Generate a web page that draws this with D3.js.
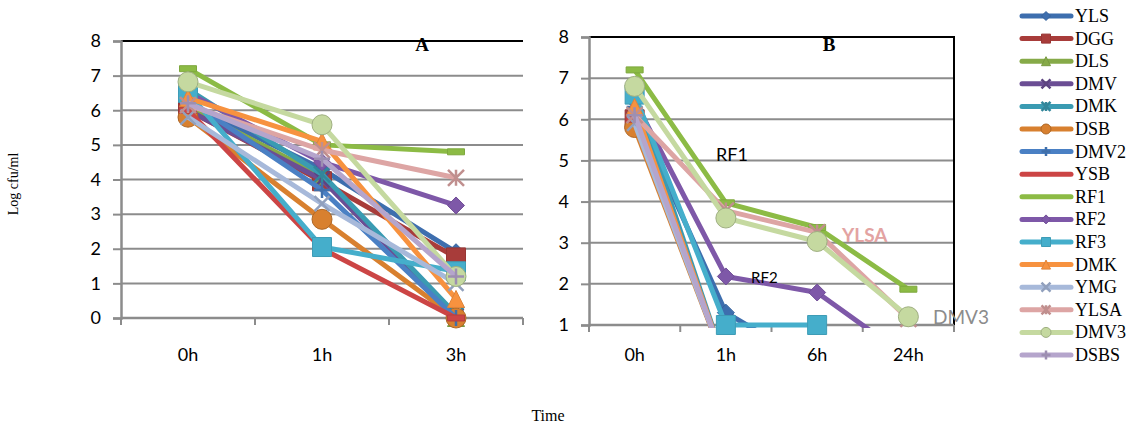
<!DOCTYPE html>
<html lang="en">
<head>
  <meta charset="UTF-8">
  <title>Log cfu/ml over time</title>
  <script src="https://d3js.org/d3.v7.min.js"></script>
  <style>
    body { margin: 0; background: #fff; }
    .tick-label { font-family: Lato, "Open Sans", sans-serif; font-size: 18px; fill: #000; }
    .legend-label { font-family: "Liberation Serif", "DejaVu Serif", serif; font-size: 18px; fill: #000; }
  </style>
</head>
<body>
<svg id="chart"></svg>

<script>
  // categories
  var leftCats = ["0h", "1h", "3h"];
  var rightCats = ["0h", "1h", "6h", "24h"];
  var leftTicks = [0, 1, 2, 3, 4, 5, 6, 7, 8];
  var rightTicks = [1, 2, 3, 4, 5, 6, 7, 8];

  // series, in legend order
  var seriesNames = ["YLS", "DGG", "DLS", "DMV", "DMK", "DSB", "DMV2", "YSB",
                     "RF1", "RF2", "RF3", "DMK", "YMG", "YLSA", "DMV3", "DSBS"];
  var seriesColors = ["#3D6EAE", "#A83C3A", "#86AA48", "#6B4E94", "#3A9BB2", "#D8802F", "#4A80C4", "#CC4545",
                      "#8CBB45", "#7E58A8", "#45AECB", "#F7923F", "#A7B9DA", "#DDA5A4", "#C5D9A0", "#B5A5CC"];
  var seriesMarkers = ["diamond", "square", "triangle", "x", "star", "circle", "plus", "dash",
                       "dash", "diamond", "square", "triangle", "x", "star", "circle", "plus"];

  // chart A (0h, 1h, 3h)
  var leftValues = [
    [6.2, 4.3, 1.9],
    [6.0, 3.95, 1.75],
    [6.1, 4.1, 0.0],
    [6.0, 4.0, 0.05],
    [6.6, 4.15, 0.1],
    [5.8, 2.85, 0.0],
    [6.3, 3.7, 0.0],
    [6.0, 2.0, 0.0],
    [7.2, 5.0, 4.8],
    [6.5, 4.5, 3.25],
    [6.5, 2.05, 1.35],
    [6.35, 5.1, 0.55],
    [5.8, 3.3, 1.0],
    [6.15, 4.85, 4.05],
    [6.82, 5.58, 1.2],
    [6.2, 4.6, 1.2]
  ];

  // chart B (0h, 1h, 6h, 24h)
  var rightValues = [
    [6.2, 1.3, 0, null],
    [6.0, 0, null, null],
    [6.1, 0, null, null],
    [6.0, 0, null, null],
    [6.6, 0, null, null],
    [5.8, 0, null, null],
    [6.3, 0, null, null],
    [6.0, 0, null, null],
    [7.2, 3.97, 3.37, 1.87],
    [6.45, 2.18, 1.79, 0.2],
    [6.6, 1.0, 1.0, null],
    [6.3, 0, null, null],
    [5.9, 0, null, null],
    [6.1, 3.78, 3.25, 1.15],
    [6.8, 3.6, 3.03, 1.2],
    [6.1, 0, null, null]
  ];

  var svg = d3.select("#chart").attr("width", 1136).attr("height", 428);

  function markerPath(type, s) {
    var h = s / 2;
    if (type === "diamond") return "M0," + (-h) + "L" + h + ",0L0," + h + "L" + (-h) + ",0Z";
    if (type === "square") return "M" + (-h) + "," + (-h) + "h" + s + "v" + s + "h" + (-s) + "Z";
    if (type === "triangle") return "M0," + (-h) + "L" + h + "," + h + "L" + (-h) + "," + h + "Z";
    if (type === "x") return "M" + (-h) + "," + (-h) + "L" + h + "," + h + "M" + h + "," + (-h) + "L" + (-h) + "," + h;
    if (type === "star") return "M" + (-h) + "," + (-h) + "L" + h + "," + h + "M" + h + "," + (-h) + "L" + (-h) + "," + h + "M0," + (-h) + "V" + h;
    if (type === "plus") return "M" + (-h) + ",0H" + h + "M0," + (-h) + "V" + h;
    if (type === "dash") return "M" + (-h) + ",-3h" + s + "v6h" + (-s) + "Z";
    return "";
  }

  function drawMarker(g, type, color, x, y, size) {
    if (type === "circle") {
      g.append("circle").attr("cx", x).attr("cy", y).attr("r", size / 2)
        .attr("fill", color).attr("stroke", d3.color(color).darker(0.6)).attr("stroke-width", 1);
      return;
    }
    var open = (type === "x" || type === "star" || type === "plus");
    g.append("path").attr("d", markerPath(type, size))
      .attr("transform", "translate(" + x + "," + y + ")")
      .attr("fill", open ? "none" : color)
      .attr("stroke", open ? d3.color(color).darker(0.4) : d3.color(color).darker(0.3))
      .attr("stroke-width", open ? 2.5 : 1);
  }

  var markerSize = { diamond: 17, square: 19, triangle: 17, x: 15, star: 16, circle: 20, plus: 16, dash: 17 };

  function drawPanel(opt) {
    var g = svg.append("g");
    var x = d3.scaleBand().domain(opt.cats).range([opt.x0, opt.x1]);
    var y = d3.scaleLinear().domain(opt.domain).range([opt.y1, opt.y0]);

    // gridlines
    g.selectAll(".grid").data(opt.ticks.slice(1, -1)).enter().append("line")
      .attr("x1", opt.x0).attr("x2", opt.x1)
      .attr("y1", function(d) { return y(d); }).attr("y2", function(d) { return y(d); })
      .attr("stroke", "#8c8c8c").attr("stroke-width", 2);

    // top and right frame
    g.append("line").attr("x1", opt.x0).attr("x2", opt.x1).attr("y1", opt.y0).attr("y2", opt.y0)
      .attr("stroke", "#000").attr("stroke-width", 2);
    if (opt.rightBorder) {
      g.append("line").attr("x1", opt.x1).attr("x2", opt.x1).attr("y1", opt.y0 - 1).attr("y2", opt.y1 + 2)
        .attr("stroke", "#000").attr("stroke-width", 2);
    }

    // y axis
    var yAxis = g.append("g").attr("transform", "translate(" + opt.x0 + ",0)")
      .call(d3.axisLeft(y).tickValues(opt.ticks).tickFormat(d3.format("d")).tickSize(8).tickPadding(12));
    yAxis.select(".domain").attr("stroke", "#8c8c8c").attr("stroke-width", 2.5);
    yAxis.selectAll(".tick line").attr("stroke", "#8c8c8c").attr("stroke-width", 2);
    yAxis.selectAll(".tick text").attr("class", "tick-label").attr("font-size", null).attr("font-family", null);

    // x axis
    g.append("line").attr("x1", opt.x0).attr("x2", opt.x1).attr("y1", opt.y1).attr("y2", opt.y1)
      .attr("stroke", "#8c8c8c").attr("stroke-width", 2.5);
    var bounds = opt.cats.map(function(c) { return x(c); }).concat([opt.x1]);
    g.selectAll(".xtick").data(bounds).enter().append("line")
      .attr("x1", function(d) { return d; }).attr("x2", function(d) { return d; })
      .attr("y1", opt.y1).attr("y2", opt.y1 + 7)
      .attr("stroke", "#8c8c8c").attr("stroke-width", 2);
    g.selectAll(".xlabel").data(opt.cats).enter().append("text")
      .attr("class", "tick-label")
      .attr("x", function(d) { return x(d) + x.bandwidth() / 2; })
      .attr("y", 361).attr("text-anchor", "middle")
      .text(function(d) { return d; });

    // clipping for the lines only
    var clipId = "clip" + opt.id;
    svg.append("clipPath").attr("id", clipId).append("rect")
      .attr("x", opt.x0).attr("y", opt.y0 - 20).attr("width", opt.x1 - opt.x0).attr("height", opt.y1 - opt.y0 + 23);
    var plot = g.append("g");

    var line = d3.line()
      .defined(function(d) { return d != null; })
      .x(function(d, i) { return x(opt.cats[i]) + x.bandwidth() / 2; })
      .y(function(d) { return y(d); });

    opt.values.forEach(function(vals, si) {
      var color = seriesColors[si];
      plot.append("path").datum(vals).attr("d", line)
        .attr("clip-path", "url(#" + clipId + ")")
        .attr("fill", "none").attr("stroke", color).attr("stroke-width", 5)
        .attr("stroke-linejoin", "round");
      vals.forEach(function(v, i) {
        if (v == null || v < opt.domain[0]) return;
        var mt = seriesMarkers[si];
        drawMarker(plot, mt, color, x(opt.cats[i]) + x.bandwidth() / 2, y(v), markerSize[mt]);
      });
    });

    // panel letter
    g.append("text").attr("x", opt.letterX).attr("y", 51)
      .attr("text-anchor", "middle")
      .attr("font-family", "Liberation Serif, serif").attr("font-weight", "bold").attr("font-size", 19)
      .text(opt.letter);
    return { x: x, y: y };
  }

  drawPanel({ id: "A", cats: leftCats, values: leftValues, ticks: leftTicks, domain: [0, 8],
              x0: 121, x1: 523, y0: 41, y1: 318, letter: "A", letterX: 422, rightBorder: false });
  drawPanel({ id: "B", cats: rightCats, values: rightValues, ticks: rightTicks, domain: [1, 8],
              x0: 589, x1: 954, y0: 37, y1: 325, letter: "B", letterX: 829, rightBorder: true });

  // annotations in chart B
  svg.append("text").attr("x", 716).attr("y", 161)
    .attr("font-family", "Lato, sans-serif").attr("font-size", 18).text("RF1");
  svg.append("text").attr("x", 751).attr("y", 283)
    .attr("font-family", "Lato, sans-serif").attr("font-size", 15).text("RF2");
  svg.append("text").attr("x", 842).attr("y", 242)
    .attr("font-family", "Lato, sans-serif").attr("font-weight", "bold").attr("font-size", 19)
    .attr("fill", "#E3A3A2").text("YLSA");
  svg.append("text").attr("x", 933).attr("y", 324)
    .attr("font-family", "Lato, sans-serif").attr("font-size", 19)
    .attr("fill", "#8c8c8c").text("DMV3");

  // axis titles
  svg.append("text").attr("transform", "translate(18,184) rotate(-90)")
    .attr("text-anchor", "middle").attr("font-family", "Liberation Serif, serif").attr("font-size", 14)
    .text("Log cfu/ml");
  svg.append("text").attr("x", 548).attr("y", 421)
    .attr("text-anchor", "middle").attr("font-family", "Liberation Serif, serif").attr("font-size", 16)
    .text("Time");

  // legend
  var legend = svg.append("g");
  seriesNames.forEach(function(name, i) {
    var ly = 16 + i * 22.6;
    legend.append("line").attr("x1", 1022).attr("x2", 1071).attr("y1", ly).attr("y2", ly)
      .attr("stroke", seriesColors[i]).attr("stroke-width", 5).attr("stroke-linecap", "round");
    var mt = seriesMarkers[i];
    if (mt !== "dash") drawMarker(legend, mt, seriesColors[i], 1046, ly, mt === "circle" ? 10 : 9);
    legend.append("text").attr("class", "legend-label").attr("x", 1075).attr("y", ly + 6).text(name);
  });
</script>
</body>
</html>
